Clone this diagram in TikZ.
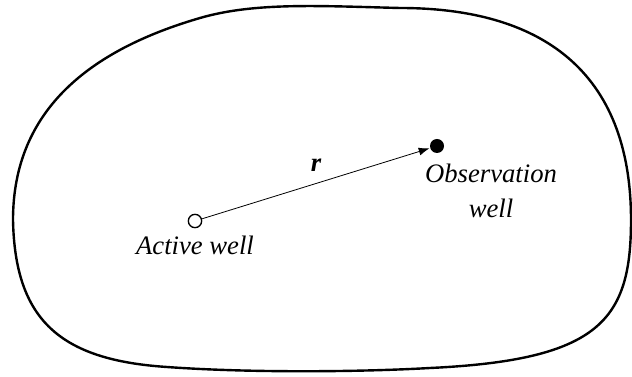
\documentclass[tikz,border=0pt]{standalone}
\usepackage{fontspec}
\setmainfont{Liberation Serif}
\usetikzlibrary{arrows.meta,positioning}

\tikzset{
  wellopen/.style={circle, draw, line width=1pt, fill=white, minimum size=10pt, inner sep=0pt},
  wellfilled/.style={circle, fill=black, minimum size=10.5pt, inner sep=0pt},
  welltext/.style={font=\fontsize{20}{26}\selectfont\itshape, align=center, inner sep=0pt}
}

\begin{document}
\begin{tikzpicture}[x=0.75pt, y=-0.75pt, >={Latex[length=8pt, width=6pt]}, line cap=round, line join=round]
\useasboundingbox (0,0) rectangle (632,377);

% aquifer boundary
\draw[line width=1.8pt] (13,220) .. controls (13,110) and (90,50) .. (200,18)
  .. controls (255,2) and (320,6) .. (400,8)
  .. controls (540,8) and (631,70) .. (631,220)
  .. controls (631,320) and (600,360) .. (430,368)
  .. controls (360,372) and (250,373) .. (167,367)
  .. controls (60,360) and (15,320) .. cycle;

% wells
\node[wellopen] (active) at (195,221) {};
\node[wellfilled] (obs) at (437,146) {};

\node[welltext] (activelabel) at (195,245) {Active well};
\node[welltext] (obslabel) at (491,191) {Observation\\well};

% distance
\draw[->, line width=0.6pt, shorten >=0.5pt] (active) -- (obs)
  node[midway, above=9pt, font=\fontsize{20}{24}\selectfont\bfseries\itshape, inner sep=0pt] (rlabel) {r};

\end{tikzpicture}
\end{document}
